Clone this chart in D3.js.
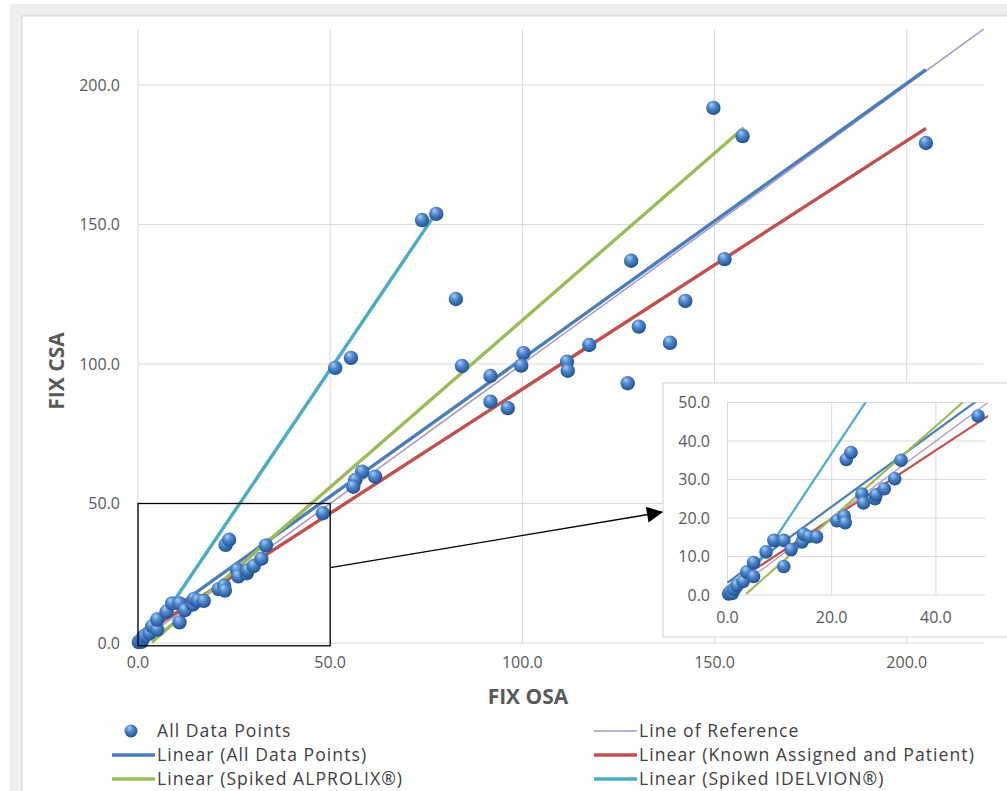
<!DOCTYPE html>
<html>
<head>
<meta charset="utf-8">
<script src="https://cdn.jsdelivr.net/npm/d3@7"></script>
<style>
  body { margin: 0; background: #fff; }
  svg text { font-family: "Open Sans", sans-serif; }
</style>
</head>
<body>
<div id="chart"></div>
<script>
// FIX OSA (x) vs FIX CSA (y)
const osaValues = [149.7, 157.3, 205.0, 73.9, 77.6, 82.7, 128.3, 152.6, 142.4, 130.3, 138.4, 117.4, 127.4,
  84.3, 91.7, 91.7, 96.2, 100.3, 99.7, 111.6, 111.8, 51.3, 55.4, 58.3, 56.5, 56.0, 61.7, 48.1,
  0.2, 0.5, 0.9, 1.2, 1.8, 3.0, 3.7, 5.0, 5.0, 7.4, 8.9, 10.8, 10.8, 12.2, 14.3, 14.6, 15.6, 17.1,
  21.0, 22.4, 22.6, 22.8, 23.7, 25.8, 26.1, 28.3, 28.5, 30.1, 32.1, 33.3];
const csaValues = [191.8, 181.7, 179.2, 151.6, 153.8, 123.3, 137.0, 137.6, 122.6, 113.4, 107.6, 106.8, 93.1,
  99.3, 95.7, 86.5, 84.2, 103.9, 99.4, 100.8, 97.6, 98.6, 102.2, 61.4, 58.4, 56.0, 59.6, 46.5,
  0.3, 0.8, 0.4, 1.5, 2.5, 3.5, 6.0, 4.8, 8.4, 11.2, 14.2, 14.2, 7.4, 11.8, 13.8, 15.8, 15.2, 15.1,
  19.3, 20.5, 18.8, 35.2, 37.0, 26.2, 23.9, 25.0, 26.0, 27.6, 30.2, 35.0];

// trendlines: name, slope, intercept, x start, x end
const trendNames = ['Linear (All Data Points)', 'Linear (Known Assigned and Patient)',
  'Linear (Spiked ALPROLIX®)', 'Linear (Spiked IDELVION®)'];
const trendSlopes = [0.987, 0.89, 1.197, 2.04];
const trendIntercepts = [3.2, 2.0, -4.0, -4.0];
const trendStart = [0, 0, 3.6, 2.0];
const trendEnd = [205, 205, 157.6, 77.1];
const trendColors = ['#4a7ebb', '#c0504d', '#9bbb59', '#4bacc6'];

const refRange = [0, 220];
const mainTicks = [0, 50, 100, 150, 200];
const insetXTicks = [0, 20, 40];
const insetYTicks = [0, 10, 20, 30, 40, 50];

const W = 1007, H = 791;
const svg = d3.select('#chart').append('svg').attr('width', W).attr('height', H);

// sphere marker gradient
const defs = svg.append('defs');
const grad = defs.append('radialGradient').attr('id', 'ball')
  .attr('cx', '45%').attr('cy', '40%').attr('r', '60%').attr('fx', '35%').attr('fy', '25%');
grad.append('stop').attr('offset', '0%').attr('stop-color', '#a9cdf5');
grad.append('stop').attr('offset', '45%').attr('stop-color', '#4f88cc');
grad.append('stop').attr('offset', '100%').attr('stop-color', '#214f8f');

defs.append('marker').attr('id', 'arrow')
  .attr('viewBox', '0 0 10 10').attr('refX', 10).attr('refY', 5)
  .attr('markerWidth', 20).attr('markerHeight', 16).attr('markerUnits', 'userSpaceOnUse')
  .attr('orient', 'auto')
  .append('path').attr('d', 'M0,0 L10,5 L0,10 Z').attr('fill', '#000');

// frame of the screenshot
svg.append('rect').attr('x', 10).attr('y', 4).attr('width', W).attr('height', H).attr('fill', '#efefef');
svg.append('rect').attr('x', 22).attr('y', 16).attr('width', W).attr('height', H)
  .attr('fill', '#fff').attr('stroke', '#d0d0d0');

const points = osaValues.map((v, i) => ({ x: v, y: csaValues[i] }));

// main chart
const x = d3.scaleLinear().domain([0, 220]).range([138, 983.6]);
const y = d3.scaleLinear().domain([0, 220]).range([643, 29.2]);

const g = svg.append('g');

g.selectAll('.vgrid').data(mainTicks).enter().append('line')
  .attr('x1', d => x(d)).attr('x2', d => x(d))
  .attr('y1', y(220)).attr('y2', y(0))
  .attr('stroke', '#d9d9d9');
g.selectAll('.hgrid').data(mainTicks).enter().append('line')
  .attr('x1', x(0)).attr('x2', x(220))
  .attr('y1', d => y(d)).attr('y2', d => y(d))
  .attr('stroke', '#d9d9d9');

g.selectAll('.ytick').data(mainTicks).enter().append('text')
  .attr('x', 120).attr('y', d => y(d)).attr('dy', '0.36em')
  .attr('text-anchor', 'end').attr('font-size', 16).attr('fill', '#595959')
  .text(d => d3.format('.1f')(d));
g.selectAll('.xtick').data(mainTicks).enter().append('text')
  .attr('x', d => x(d)).attr('y', 668)
  .attr('text-anchor', 'middle').attr('font-size', 16).attr('fill', '#595959')
  .text(d => d3.format('.1f')(d));

g.append('text').attr('transform', 'translate(64,371) rotate(-90)')
  .attr('text-anchor', 'middle').attr('font-size', 21).attr('font-weight', 'bold')
  .attr('fill', '#595959').text('FIX CSA');
g.append('text').attr('x', 528).attr('y', 704)
  .attr('text-anchor', 'middle').attr('font-size', 21).attr('font-weight', 'bold')
  .attr('fill', '#595959').text('FIX OSA');

function drawLines(sel, xs, ys, width, refWidth) {
  sel.append('line')
    .attr('x1', xs(refRange[0])).attr('y1', ys(refRange[0]))
    .attr('x2', xs(refRange[1])).attr('y2', ys(refRange[1]))
    .attr('stroke', '#a895c9').attr('stroke-width', refWidth);
  trendNames.forEach((n, i) => {
    const x0 = trendStart[i], x1 = trendEnd[i];
    sel.append('line')
      .attr('x1', xs(x0)).attr('y1', ys(trendSlopes[i] * x0 + trendIntercepts[i]))
      .attr('x2', xs(x1)).attr('y2', ys(trendSlopes[i] * x1 + trendIntercepts[i]))
      .attr('stroke', trendColors[i]).attr('stroke-width', width);
  });
}

drawLines(g, x, y, 3.4, 1.5);

g.selectAll('.pt').data(points).enter().append('circle')
  .attr('cx', d => x(d.x)).attr('cy', d => y(d.y)).attr('r', 7.2)
  .attr('fill', 'url(#ball)');

// zoom box and arrow
g.append('rect')
  .attr('x', x(0)).attr('y', y(50))
  .attr('width', x(50) - x(0)).attr('height', y(-1) - y(50))
  .attr('fill', 'none').attr('stroke', '#000').attr('stroke-width', 1.3);

const insetBox = { left: 663, top: 383, bottom: 637 };

g.append('line')
  .attr('x1', x(50)).attr('y1', y(27))
  .attr('x2', insetBox.left).attr('y2', 512)
  .attr('stroke', '#000').attr('stroke-width', 1.3)
  .attr('marker-end', 'url(#arrow)');

// inset
const ins = svg.append('g');
ins.append('rect').attr('x', insetBox.left).attr('y', insetBox.top)
  .attr('width', W - insetBox.left + 10).attr('height', insetBox.bottom - insetBox.top)
  .attr('fill', '#fff').attr('stroke', '#d0d0d0');

const xi = d3.scaleLinear().domain([0, 50]).range([727.5, 988]);
const yi = d3.scaleLinear().domain([0, 50]).range([595, 402.5]);

defs.append('clipPath').attr('id', 'insetClip')
  .append('rect').attr('x', xi(0) - 10).attr('y', yi(50))
  .attr('width', xi(50) - xi(0) + 10).attr('height', yi(0) - yi(50) + 10);

ins.selectAll('.ivgrid').data(insetXTicks).enter().append('line')
  .attr('x1', d => xi(d)).attr('x2', d => xi(d))
  .attr('y1', yi(50)).attr('y2', yi(0))
  .attr('stroke', '#d9d9d9');
ins.selectAll('.ihgrid').data(insetYTicks).enter().append('line')
  .attr('x1', xi(0)).attr('x2', xi(49.5))
  .attr('y1', d => yi(d)).attr('y2', d => yi(d))
  .attr('stroke', '#d9d9d9');

ins.selectAll('.iytick').data(insetYTicks).enter().append('text')
  .attr('x', 710).attr('y', d => yi(d)).attr('dy', '0.36em')
  .attr('text-anchor', 'end').attr('font-size', 16).attr('fill', '#595959')
  .text(d => d3.format('.1f')(d));
ins.selectAll('.ixtick').data(insetXTicks).enter().append('text')
  .attr('x', d => xi(d)).attr('y', 623)
  .attr('text-anchor', 'middle').attr('font-size', 16).attr('fill', '#595959')
  .text(d => d3.format('.1f')(d));

const clipG = ins.append('g').attr('clip-path', 'url(#insetClip)');
drawLines(clipG, xi, yi, 2.2, 1.3);

ins.selectAll('.ipt').data(points.filter(d => d.x <= 50 && d.y <= 50)).enter().append('circle')
  .attr('cx', d => xi(d.x)).attr('cy', d => yi(d.y)).attr('r', 6.8)
  .attr('fill', 'url(#ball)');

// legend
const leg = svg.append('g').attr('font-size', 17.6).attr('letter-spacing', '1.05px').attr('fill', '#404040');
const legItems = [
  { label: 'All Data Points', type: 'ball', col: 0, row: 0 },
  { label: 'Line of Reference', type: 'ref', col: 1, row: 0 },
  { label: trendNames[0], type: 'line', color: trendColors[0], col: 0, row: 1 },
  { label: trendNames[1], type: 'line', color: trendColors[1], col: 1, row: 1 },
  { label: trendNames[2], type: 'line', color: trendColors[2], col: 0, row: 2 },
  { label: trendNames[3], type: 'line', color: trendColors[3], col: 1, row: 2 }
];
const colX = [112, 594], rowY = [731, 755, 779];

const li = leg.selectAll('.li').data(legItems).enter().append('g')
  .attr('transform', d => 'translate(' + colX[d.col] + ',' + rowY[d.row] + ')');
li.filter(d => d.type === 'ball').append('circle')
  .attr('cx', 19).attr('cy', 0).attr('r', 6.5).attr('fill', 'url(#ball)');
li.filter(d => d.type === 'ref').append('line')
  .attr('x1', 0).attr('x2', 43).attr('stroke', '#a895c9').attr('stroke-width', 1.5);
li.filter(d => d.type === 'line').append('line')
  .attr('x1', 0).attr('x2', 43).attr('stroke', d => d.color).attr('stroke-width', 3.4);
li.append('text').attr('x', 45).attr('dy', '0.35em').text(d => d.label);
</script>
</body>
</html>
